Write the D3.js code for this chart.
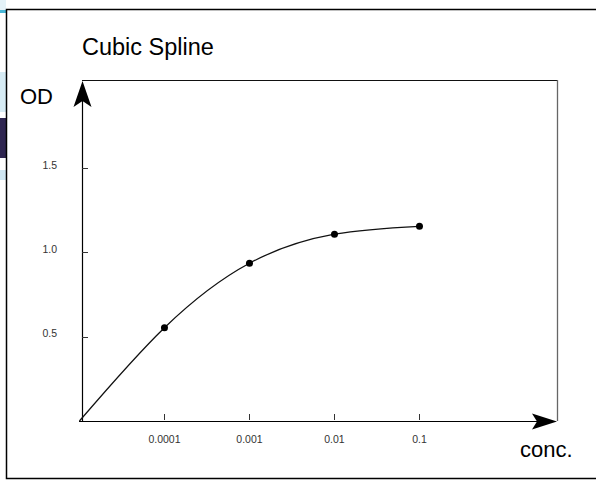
<!DOCTYPE html>
<html>
<head>
<meta charset="utf-8">
<script src="https://cdn.jsdelivr.net/npm/d3@7"></script>
<style>
  html, body { margin: 0; padding: 0; background: #ffffff; }
  svg { display: block; }
  text { font-family: "Liberation Sans", Arial, Helvetica, sans-serif; }
</style>
</head>
<body>
<svg id="chart" width="596" height="480"></svg>
<script>
// ---- data ----
const chartTitle = "Cubic Spline";
const yAxisLabel = "OD";
const xAxisLabel = "conc.";
const originConc = 1e-5;
const originOD = 0;
const pointConc = [1e-4, 1e-3, 1e-2, 1e-1];
const pointOD = [0.553, 0.935, 1.107, 1.154];
const xTickValues = [1e-4, 1e-3, 1e-2, 1e-1];
const xTickLabels = ["0.0001", "0.001", "0.01", "0.1"];
const yTickValues = [0.5, 1.0, 1.5];
const yTickLabels = ["0.5", "1.0", "1.5"];

// ---- layout ----
const svg = d3.select("#chart");
const plotLeft = 82, plotRight = 557, plotTop = 80, plotBottom = 421;

const x = d3.scaleLog()
  .domain([Math.pow(10, -4.97), Math.pow(10, 0.6176)])
  .range([plotLeft, plotRight]);
const y = d3.scaleLinear()
  .domain([0, 2.021])
  .range([plotBottom, plotTop]);

// background decoration strip at far left
const deco = svg.append("g");
deco.append("rect").attr("x", 0).attr("y", 0).attr("width", 6).attr("height", 10).attr("fill", "#e4f2f8");
deco.append("rect").attr("x", 0).attr("y", 10).attr("width", 6).attr("height", 3).attr("fill", "#49b6d6");
deco.append("rect").attr("x", 0).attr("y", 72).attr("width", 6).attr("height", 40).attr("fill", "#d6ebf4");
deco.append("rect").attr("x", 0).attr("y", 118).attr("width", 6).attr("height", 40).attr("fill", "#2e2550");
deco.append("rect").attr("x", 0).attr("y", 170).attr("width", 6).attr("height", 10).attr("fill", "#cfe6f2");

// outer frame (left, top, bottom)
svg.append("path")
  .attr("d", "M596,9.5 H6.5 V478.5 H596")
  .attr("fill", "none").attr("stroke", "#000").attr("stroke-width", 1.5);

// inner frame (top + right)
svg.append("line").attr("x1", plotLeft).attr("x2", plotRight + 1)
  .attr("y1", plotTop + 0.5).attr("y2", plotTop + 0.5)
  .attr("stroke", "#111").attr("stroke-width", 1);
svg.append("line").attr("x1", plotRight + 0.5).attr("x2", plotRight + 0.5)
  .attr("y1", plotTop).attr("y2", plotBottom)
  .attr("stroke", "#666").attr("stroke-width", 1.3);

// title
svg.append("text").attr("x", 82).attr("y", 55)
  .attr("font-size", 23.5).attr("fill", "#000").text(chartTitle);

// y axis line + arrow
svg.append("line").attr("x1", plotLeft + 0.5).attr("x2", plotLeft + 0.5)
  .attr("y1", plotBottom + 1).attr("y2", plotTop + 8)
  .attr("stroke", "#000").attr("stroke-width", 1.2);
svg.append("path")
  .attr("d", `M${plotLeft + 0.5},${plotTop + 1} L${plotLeft - 8.5},${plotTop + 27} L${plotLeft + 0.5},${plotTop + 21} L${plotLeft + 9.5},${plotTop + 27} Z`)
  .attr("fill", "#000");

// x axis line + arrow
svg.append("line").attr("x1", plotLeft - 3).attr("x2", plotRight - 8)
  .attr("y1", plotBottom + 0.5).attr("y2", plotBottom + 0.5)
  .attr("stroke", "#000").attr("stroke-width", 1.2);
svg.append("path")
  .attr("d", `M${plotRight},${plotBottom + 0.5} L${plotRight - 25},${plotBottom - 7.5} L${plotRight - 20},${plotBottom + 0.5} L${plotRight - 25},${plotBottom + 8.5} Z`)
  .attr("fill", "#000");

// y ticks
svg.selectAll(".ytick").data(yTickValues).enter().append("line")
  .attr("x1", plotLeft).attr("x2", plotLeft + 6)
  .attr("y1", d => Math.round(y(d)) + 0.5).attr("y2", d => Math.round(y(d)) + 0.5)
  .attr("stroke", "#333").attr("stroke-width", 1);
svg.selectAll(".ylab").data(yTickValues).enter().append("text")
  .attr("x", 57).attr("y", d => y(d) - 3).attr("dy", "0.35em")
  .attr("text-anchor", "end").attr("font-size", 10.5).attr("fill", "#333")
  .text((d, i) => yTickLabels[i]);

// x ticks
svg.selectAll(".xtick").data(xTickValues).enter().append("line")
  .attr("x1", d => Math.round(x(d)) + 0.5).attr("x2", d => Math.round(x(d)) + 0.5)
  .attr("y1", plotBottom - 7).attr("y2", plotBottom - 1)
  .attr("stroke", "#333").attr("stroke-width", 1);
svg.selectAll(".xlab").data(xTickValues).enter().append("text")
  .attr("x", d => x(d)).attr("y", 439).attr("dy", "0.35em")
  .attr("text-anchor", "middle").attr("font-size", 10.5).attr("fill", "#333")
  .text((d, i) => xTickLabels[i]);

// axis labels
svg.append("text").attr("x", 20).attr("y", 104)
  .attr("font-size", 22).attr("fill", "#000").text(yAxisLabel);
svg.append("text").attr("x", 520).attr("y", 457)
  .attr("font-size", 22).attr("fill", "#000").text(xAxisLabel);

// curve
const curveData = [[originConc, originOD]].concat(pointConc.map((c, i) => [c, pointOD[i]]));
const line = d3.line().x(d => x(d[0])).y(d => y(d[1])).curve(d3.curveNatural);
svg.append("path").datum(curveData).attr("d", line)
  .attr("fill", "none").attr("stroke", "#111").attr("stroke-width", 1.3);

// points
svg.selectAll(".pt").data(pointConc).enter().append("circle")
  .attr("cx", d => x(d)).attr("cy", (d, i) => y(pointOD[i])).attr("r", 3.5)
  .attr("fill", "#000");
</script>
</body>
</html>
